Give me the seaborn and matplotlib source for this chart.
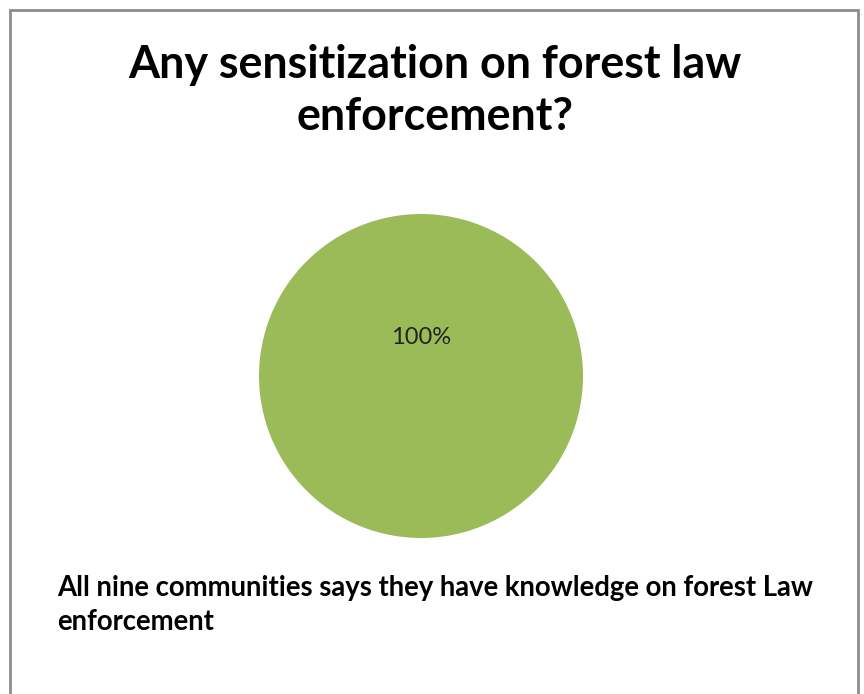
import matplotlib
matplotlib.use("Agg")
import matplotlib.pyplot as plt
import seaborn as sns
from matplotlib.patches import Rectangle

sns.set_theme(style="white")
plt.rcParams['font.family'] = ['Lato', 'DejaVu Sans']

# Data
categories = ["Yes"]
values = [9]
colors = ["#9BBB59"]
title = "Any sensitization on forest law\nenforcement?"
note = "All nine communities says they have knowledge on forest Law\nenforcement"

W, H = 864, 694
fig = plt.figure(figsize=(W / 100, H / 100), dpi=100)
fig.patch.set_facecolor("white")

# Outer frame
fig.patches.append(Rectangle((9.5 / W, -0.1), (858 - 9.5) / W, 1.1 - 10.5 / H,
                             transform=fig.transFigure, fill=False,
                             edgecolor="#8c8c8c", linewidth=2, clip_on=False))

cx, cy, r = 421, 376, 162
ax = fig.add_axes([(cx - r) / W, (H - cy - r) / H, 2 * r / W, 2 * r / H])
wedges, texts, autotexts = ax.pie(values, labels=None, colors=colors, startangle=-90,
                                  autopct="%1.0f%%", pctdistance=0.24,
                                  wedgeprops=dict(linewidth=0),
                                  textprops=dict(fontsize=17, color="#222222"))
ax.set_xlim(-1, 1)
ax.set_ylim(-1, 1)
ax.set_aspect("equal")
ax.axis("off")

fig.text(435 / W, 1 - 91 / H, title, ha="center", va="center", fontsize=32.3,
         fontweight="bold", color="black", linespacing=1.28)
fig.text(57 / W, 1 - 605 / H, note, ha="left", va="center", fontsize=19.8,
         fontweight="bold", color="black", linespacing=1.42)

fig.savefig("out.png", dpi=100, facecolor="white")
